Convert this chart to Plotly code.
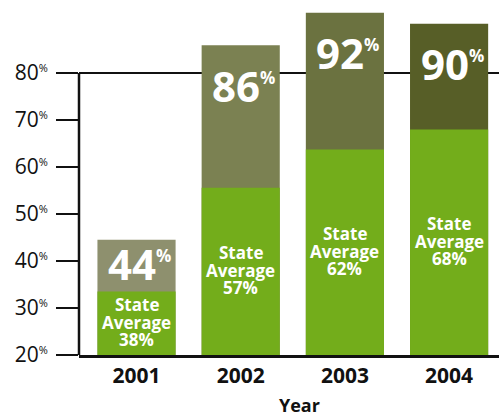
import plotly.graph_objects as go

# ---- data ----
years = ["2001", "2002", "2003", "2004"]
school_total = [44.5, 85.9, 92.8, 90.5]        # drawn height of full bar
school_label = [44, 86, 92, 90]                # big label text
state_average = [33.5, 55.6, 63.7, 68.0]       # drawn height of green part
state_label = [38, 57, 62, 68]                 # state average label text
olive_colors = ["#8e906e", "#7b8152", "#6b7240", "#575e27"]
green_color = "#73ad1b"
y_ticks = [20, 30, 40, 50, 60, 70, 80]

FONT = "Open Sans"
PX_PER_UNIT = 4.7

fig = go.Figure()
fig.add_trace(go.Bar(x=years, y=school_total, marker=dict(color=olive_colors, line=dict(width=0)),
                     width=0.75, hoverinfo="skip"))
fig.add_trace(go.Bar(x=years, y=state_average, marker=dict(color=green_color, line=dict(width=0)),
                     width=0.75, hoverinfo="skip"))

annotations = []
for i, (tot, lab, st, slab) in enumerate(zip(school_total, school_label, state_average, state_label)):
    # big label near top of the bar, or centred in the olive part when it is short
    ly = max(tot - 42 / PX_PER_UNIT, (tot + st) / 2)
    annotations.append(dict(
        x=i, y=ly, xref="x", yref="y", showarrow=False, yanchor="middle",
        text=f"{lab}<sup><span style='font-size:17px'>%</span></sup>",
        font=dict(family=FONT, size=42, color="white", weight="bold"), yshift=2, xshift=3))
    cy = (20 + st) / 2
    for k, t in enumerate(["State", "Average", f"{slab}%"]):
        annotations.append(dict(
            x=i, y=cy, xref="x", yref="y", showarrow=False, yanchor="middle",
            yshift=(1 - k) * 17.5 + 1, text=t,
            font=dict(family=FONT, size=17, color="white", weight="bold")))

annotations.append(dict(x=0.526, y=0, xref="paper", yref="paper", yshift=-50, showarrow=False,
                        yanchor="middle", text="Year",
                        font=dict(family=FONT, size=18, color="#111111", weight="bold")))

shapes = [
    dict(type="line", xref="paper", yref="y", x0=0, x1=1, y0=80, y1=80,
         line=dict(color="#111111", width=2), layer="below"),
    dict(type="line", xref="paper", yref="y", x0=0, x1=0, y0=20, y1=80,
         line=dict(color="#111111", width=2.5), layer="above"),
]

fig.update_layout(
    width=499, height=415,
    margin=dict(l=79, r=0, t=0, b=60),
    paper_bgcolor="white", plot_bgcolor="white",
    barmode="overlay", showlegend=False,
    annotations=annotations, shapes=shapes,
    xaxis=dict(type="category", range=[-0.552, 3.479], showgrid=False, zeroline=False,
               showline=True, linecolor="#111111", linewidth=2.5, ticks="",
               tickfont=dict(family=FONT, size=21, color="#111111", weight="bold")),
    yaxis=dict(range=[20, 20 + 355 / PX_PER_UNIT], showgrid=False, zeroline=False, showline=False,
               tickvals=y_ticks,
               ticktext=[f"{v}<sup><span style='font-size:11px'>%</span></sup>" for v in y_ticks],
               ticks="outside", ticklen=22, tickwidth=2, tickcolor="#111111",
               ticklabelstandoff=4,
               tickfont=dict(family=FONT, size=21, color="#111111")),
)

fig.write_html("out.html", config={"displayModeBar": False},
               post_script="document.body.style.margin='0';")
